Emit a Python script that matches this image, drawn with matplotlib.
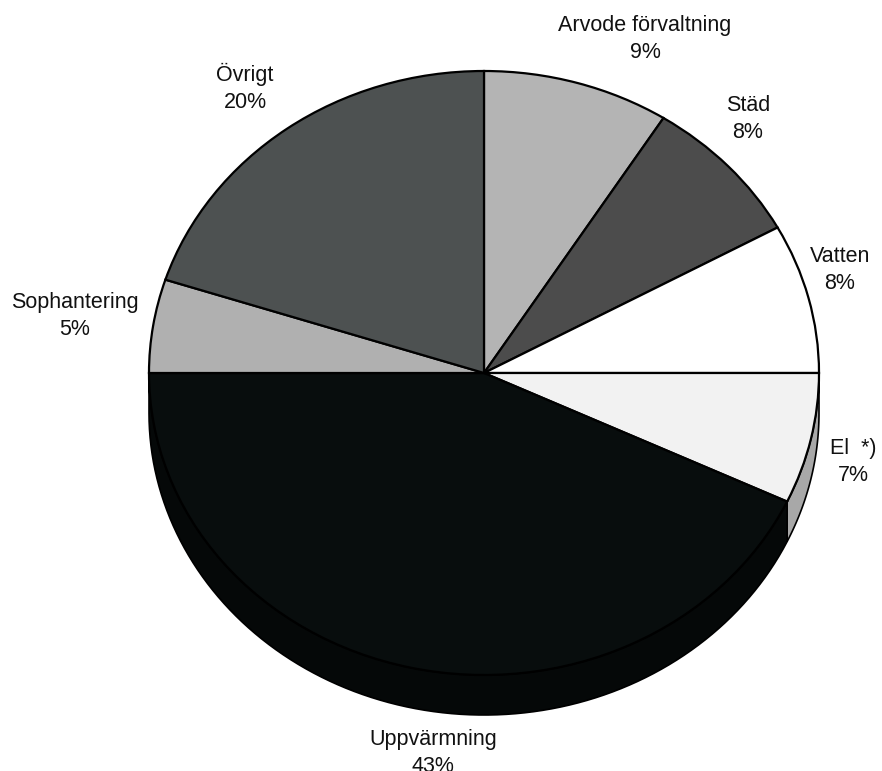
import numpy as np
import matplotlib
matplotlib.use("Agg")
import matplotlib.pyplot as plt
from matplotlib.patches import Polygon

plt.rcParams['font.family'] = ['Liberation Sans', 'DejaVu Sans']

categories = ["Arvode förvaltning", "Städ", "Vatten", "El  *)", "Uppvärmning", "Sophantering", "Övrigt"]
values = [9, 8, 8, 7, 43, 5, 20]
top_colors = ["#b4b4b4", "#4c4c4c", "#ffffff", "#f2f2f2", "#080d0d", "#b0b0b0", "#4d5151"]
side_colors = ["#8a8a8a", "#333333", "#bdbdbd", "#a8a8a8", "#050808", "#7a7a7a", "#333636"]
label_pos = [(645, 39), (748, 119), (840, 270), (853, 462), (433, 753), (75, 316), (245, 88)]

W, H = 882, 771
fig = plt.figure(figsize=(W / 100, H / 100), dpi=100)
ax = fig.add_axes([0, 0, 1, 1])

rx, ry = 335.0, 302.0
k = ry / rx
cx_px, cy_px = 484.0, 373.0
depth_px = 40.0

cx = cx_px
cy = (H - cy_px) / k
D = depth_px / k
R = rx

wedges, _ = ax.pie(values, colors=top_colors, startangle=90, counterclock=False,
                   radius=R, center=(cx, cy), frame=True,
                   wedgeprops=dict(edgecolor="black", linewidth=1.6))
for w in wedges:
    w.set_zorder(3)

# extruded side for the front half
for w, sc in zip(wedges, side_colors):
    a1, a2 = w.theta1, w.theta2
    segs = []
    for base in (-360, 0, 360):
        lo = max(a1, 180 + base)
        hi = min(a2, 360 + base)
        if hi > lo:
            segs.append((lo, hi))
    for lo, hi in segs:
        t = np.radians(np.linspace(lo, hi, 100))
        xs = cx + R * np.cos(t)
        ys = cy + R * np.sin(t)
        pts = np.column_stack([np.concatenate([xs, xs[::-1]]),
                               np.concatenate([ys, ys[::-1] - D])])
        ax.add_patch(Polygon(pts, closed=True, facecolor=sc, edgecolor="black",
                             linewidth=1.2, zorder=2))

ax.set_xlim(0, W)
ax.set_ylim(0, H / k)
ax.set_aspect('auto')
ax.axis('off')

for name, v, (px, py) in zip(categories, values, label_pos):
    ax.text(px, (H - py) / k, f"{name}\n{v}%", ha="center", va="center",
            fontsize=15.5, color="#111111", linespacing=1.4, zorder=5)

fig.savefig("out.png", dpi=100)
